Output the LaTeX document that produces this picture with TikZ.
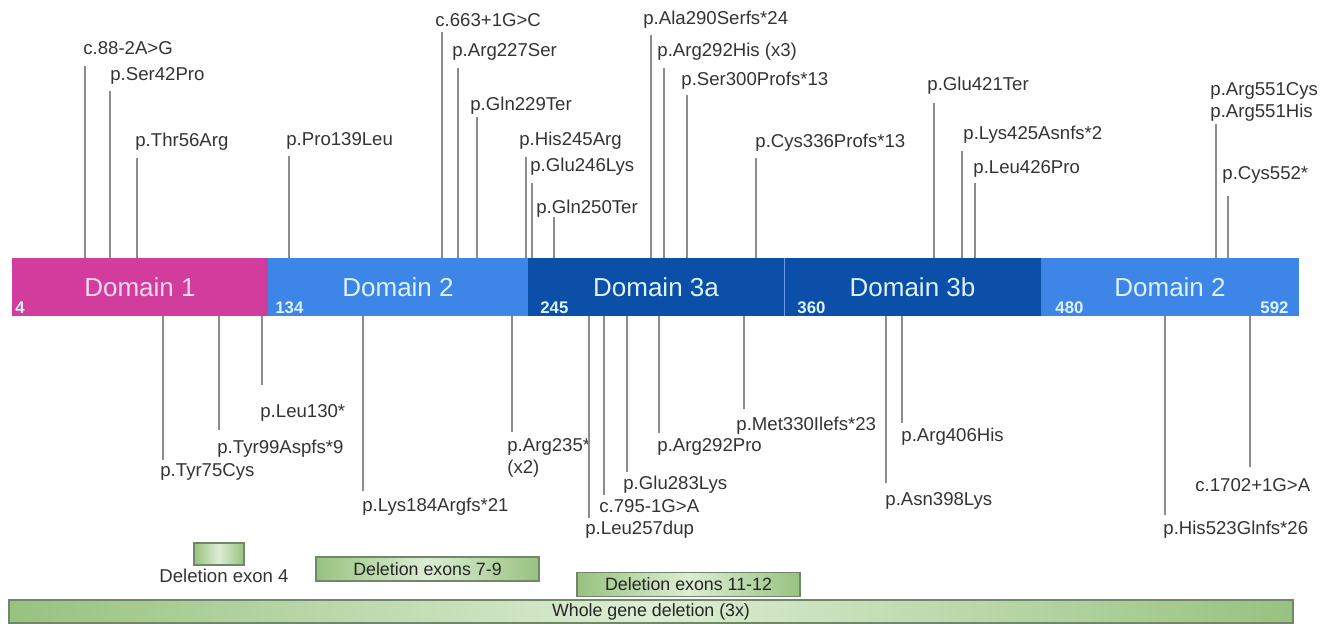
\documentclass[tikz,border=0pt]{standalone}
\usepackage{fontspec}
\setmainfont{Liberation Sans}
\usetikzlibrary{positioning}
\definecolor{dompink}{HTML}{D23C9C}
\definecolor{domblue}{HTML}{3D86E8}
\definecolor{domdark}{HTML}{0B4FA8}
\definecolor{pinktext}{HTML}{FAD9EE}
\definecolor{bluetext}{HTML}{DDF3FF}
\definecolor{stemgray}{HTML}{8C8C8C}
\definecolor{labgray}{HTML}{333333}
\definecolor{delgreen}{HTML}{98C280}
\definecolor{dellight}{HTML}{DCEDD3}
\definecolor{deledge}{HTML}{71876A}

\begin{document}
\begin{tikzpicture}[
  x=0.5pt, y=-0.5pt,
  dombox/.style={rectangle, minimum height=29pt, inner sep=0pt, font=\fontsize{13}{15}\selectfont},
  resnum/.style={anchor=west, inner sep=0pt, text=bluetext, font=\fontsize{8.4}{10}\selectfont\bfseries},
  mut/.style={anchor=west, inner sep=0pt, align=left, text=labgray, font=\fontsize{9.3}{11}\selectfont},
  stem/.style={stemgray, line width=0.8pt},
  delbox/.style={rectangle, draw=deledge, line width=0.6pt, left color=delgreen, right color=delgreen, middle color=dellight, minimum height=12pt, inner sep=0pt, text=black!85, font=\fontsize{8.9}{10}\selectfont},
]
\useasboundingbox (0,0) rectangle (1322,624);

% protein bar
\node[dombox, fill=dompink, text=pinktext, minimum width=128pt] (dom1) at (140,287) {Domain 1};
\node[dombox, fill=domblue, text=bluetext, minimum width=130pt] (dom2) at (398,287) {Domain 2};
\node[dombox, fill=domdark, text=bluetext, minimum width=128pt] (dom3a) at (656,287) {Domain 3a};
\node[dombox, fill=domdark, text=bluetext, minimum width=128.5pt] (dom3b) at (912.5,287) {Domain 3b};
\node[dombox, fill=domblue, text=bluetext, minimum width=129pt] (dom2b) at (1170,287) {Domain 2};
\draw[domblue!80, line width=0.5pt] (dom3a.north east) -- (dom3a.south east);

\node[resnum] (n4) at (15,308) {4};
\node[resnum] (n134) at (275,308) {134};
\node[resnum] (n245) at (540,308) {245};
\node[resnum] (n360) at (797,308) {360};
\node[resnum] (n480) at (1055,308) {480};
\node[resnum] (n592) at (1260,308) {592};

% variants above the bar
\foreach \xl/\yt/\xt/\yc/\txt [count=\i] in {
  85/66/83/48/{c.88-2A>G},
  110/91/110/76/{p.Ser42Pro},
  137/158/135/142/{p.Thr56Arg},
  289/156/286/141/{p.Pro139Leu},
  442/32/435/20/{c.663+1G>C},
  458/68/452/52/{p.Arg227Ser},
  477/117/470/106/{p.Gln229Ter},
  526/157/519/141/{p.His245Arg},
  532/183/530/167/{p.Glu246Lys},
  554/217/536/209/{p.Gln250Ter},
  651/35/643/20/{p.Ala290Serfs*24},
  664/68/657/52/{p.Arg292His (x3)},
  687/95/681/81/{p.Ser300Profs*13},
  756/158/755/143/{p.Cys336Profs*13},
  934/103/927/86/{p.Glu421Ter},
  962/151/963/135/{p.Lys425Asnfs*2},
  975/183/973/169/{p.Leu426Pro},
  1216/124/1210/101.5/{p.Arg551Cys\\p.Arg551His},
  1228/196/1222/175/{p.Cys552*}} {
  \node[mut] (up\i) at (\xt,\yc) {\txt};
  \coordinate (upend\i) at (\xl,\yt);
  \draw[stem] (upend\i) -- (upend\i |- dom1.north);
}

% variants below the bar
\foreach \xl/\yb/\xt/\yc/\txt [count=\i] in {
  163/460/160/472/{p.Tyr75Cys},
  219/430/217/449/{p.Tyr99Aspfs*9},
  262/385/260/413/{p.Leu130*},
  363/491/362/507/{p.Lys184Argfs*21},
  512/432/507/457.5/{p.Arg235*\\(x2)},
  589/518/585/530/{p.Leu257dup},
  604/495/599/506/{c.795-1G>A},
  627/472/623/485/{p.Glu283Lys},
  659/433/657/447/{p.Arg292Pro},
  744/409/736/426/{p.Met330Ilefs*23},
  886/483/885/501/{p.Asn398Lys},
  902/423/901/437/{p.Arg406His},
  1165/515/1163/530/{p.His523Glnfs*26},
  1250/467/1195/485/{c.1702+1G>A}} {
  \node[mut] (dn\i) at (\xt,\yc) {\txt};
  \coordinate (dnend\i) at (\xl,\yb);
  \draw[stem] (dnend\i |- dom1.south) -- (dnend\i);
}

% deletions
\node[delbox, minimum width=25pt, minimum height=11pt] (delex4) at (219,554) {};
\node[mut, anchor=north, below=1.5pt of delex4, xshift=2.5pt] (delex4lbl) {Deletion exon 4};
\node[delbox, minimum width=111.5pt] (del79) at (427.5,569) {Deletion exons 7-9};
\node[delbox, minimum width=111.5pt] (del1112) at (688.5,584.5) {Deletion exons 11-12};
\node[delbox, minimum width=642pt, minimum height=11.5pt] (delwhole) at (651,611.5) {Whole gene deletion (3x)};
\end{tikzpicture}
\end{document}
